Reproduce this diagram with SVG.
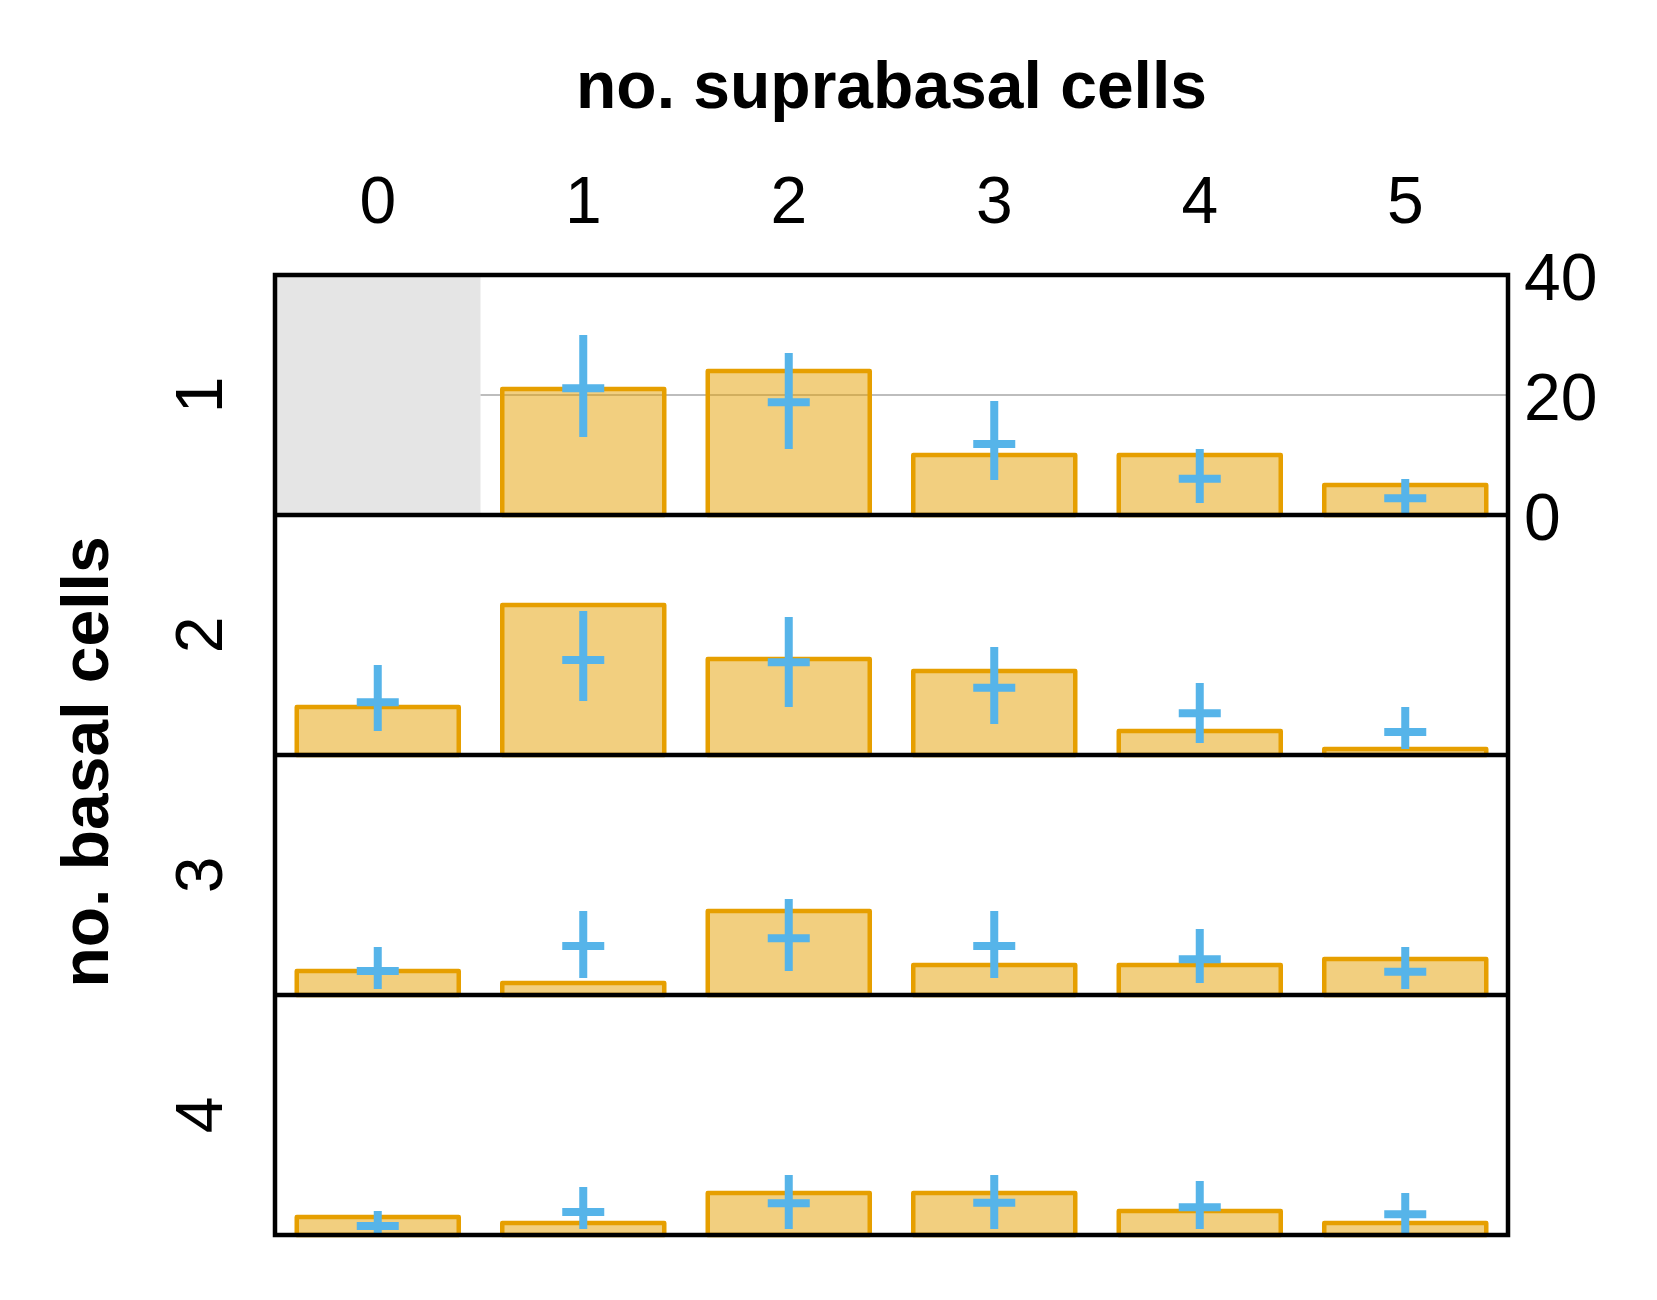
<svg xmlns="http://www.w3.org/2000/svg" width="1657" height="1300" viewBox="0 0 1657 1300">
<style>
.t{font-family:"Liberation Sans",Arial,Helvetica,sans-serif;font-size:66px;fill:#000}
.b{font-weight:bold}
.bar{fill:#e69f00;fill-opacity:0.5;stroke:#e69f00;stroke-width:4.5;stroke-linejoin:round}
.err{stroke:#56b4e9;stroke-width:8;fill:none}
.frame{stroke:#000;stroke-width:4.5;fill:none}
.grid{stroke:#bdbdbd;stroke-width:2}
</style>
<rect width="1657" height="1300" fill="#fff"/>
<g id="titles">
<text class="t b" x="891.5" y="108" text-anchor="middle">no. suprabasal cells</text>
<text class="t b" transform="translate(108,762) rotate(-90)" text-anchor="middle">no. basal cells</text>
</g>
<g id="col-labels">
<text class="t" x="377.75" y="223" text-anchor="middle">0</text>
<text class="t" x="583.25" y="223" text-anchor="middle">1</text>
<text class="t" x="788.75" y="223" text-anchor="middle">2</text>
<text class="t" x="994.25" y="223" text-anchor="middle">3</text>
<text class="t" x="1199.75" y="223" text-anchor="middle">4</text>
<text class="t" x="1405.25" y="223" text-anchor="middle">5</text>
</g>
<g id="row-labels">
<text class="t" transform="translate(222,395) rotate(-90)" text-anchor="middle">1</text>
<text class="t" transform="translate(222,635) rotate(-90)" text-anchor="middle">2</text>
<text class="t" transform="translate(222,875) rotate(-90)" text-anchor="middle">3</text>
<text class="t" transform="translate(222,1115) rotate(-90)" text-anchor="middle">4</text>
</g>
<g id="y-axis">
<text class="t" x="1524" y="300">40</text>
<text class="t" x="1524" y="420">20</text>
<text class="t" x="1524" y="540">0</text>
</g>
<g id="panel-1">
<rect x="275" y="275" width="205.5" height="240" fill="#e5e5e5"/>
<line class="grid" x1="480.5" y1="395" x2="1508" y2="395"/>
<rect class="bar" x="502.25" y="389" width="162" height="126"/>
<rect class="bar" x="707.75" y="371" width="162" height="144"/>
<rect class="bar" x="913.25" y="455" width="162" height="60"/>
<rect class="bar" x="1118.75" y="455" width="162" height="60"/>
<rect class="bar" x="1324.25" y="485" width="162" height="30"/>
<path class="err" d="M583.25 335V437M562.25 388.3H604.25M788.75 353V449M767.75 402.3H809.75M994.25 401V480M973.25 444H1015.25M1199.75 449V503M1178.75 478.7H1220.75M1405.25 479V514M1384.25 498.3H1426.25"/>
</g>
<g id="panel-2">
<rect class="bar" x="296.75" y="707" width="162" height="48"/>
<rect class="bar" x="502.25" y="605" width="162" height="150"/>
<rect class="bar" x="707.75" y="659" width="162" height="96"/>
<rect class="bar" x="913.25" y="671" width="162" height="84"/>
<rect class="bar" x="1118.75" y="731" width="162" height="24"/>
<rect class="bar" x="1324.25" y="749" width="162" height="6"/>
<path class="err" d="M377.75 665V731M356.75 702.3H398.75M583.25 611V701M562.25 660H604.25M788.75 617V707M767.75 662.3H809.75M994.25 647V724M973.25 687.7H1015.25M1199.75 683V743M1178.75 713.3H1220.75M1405.25 707V749M1384.25 732H1426.25"/>
</g>
<g id="panel-3">
<rect class="bar" x="296.75" y="971" width="162" height="24"/>
<rect class="bar" x="502.25" y="983" width="162" height="12"/>
<rect class="bar" x="707.75" y="911" width="162" height="84"/>
<rect class="bar" x="913.25" y="965" width="162" height="30"/>
<rect class="bar" x="1118.75" y="965" width="162" height="30"/>
<rect class="bar" x="1324.25" y="959" width="162" height="36"/>
<path class="err" d="M377.75 947V989M356.75 971H398.75M583.25 911V978M562.25 946H604.25M788.75 899V971M767.75 938.3H809.75M994.25 911V978M973.25 946H1015.25M1199.75 929V983M1178.75 959.3H1220.75M1405.25 947V989M1384.25 971.7H1426.25"/>
</g>
<g id="panel-4">
<rect class="bar" x="296.75" y="1217" width="162" height="18"/>
<rect class="bar" x="502.25" y="1223" width="162" height="12"/>
<rect class="bar" x="707.75" y="1193" width="162" height="42"/>
<rect class="bar" x="913.25" y="1193" width="162" height="42"/>
<rect class="bar" x="1118.75" y="1211" width="162" height="24"/>
<rect class="bar" x="1324.25" y="1223" width="162" height="12"/>
<path class="err" d="M377.75 1211V1233M356.75 1226H398.75M583.25 1187V1229M562.25 1212H604.25M788.75 1175V1229M767.75 1203.3H809.75M994.25 1175V1229M973.25 1202.7H1015.25M1199.75 1181V1229M1178.75 1207.3H1220.75M1405.25 1193V1233M1384.25 1214.3H1426.25"/>
</g>
<g id="connectors">
<rect class="frame" x="275" y="275" width="1233" height="960"/>
<path class="frame" d="M275 515H1508M275 755H1508M275 995H1508"/>
</g>
</svg>
